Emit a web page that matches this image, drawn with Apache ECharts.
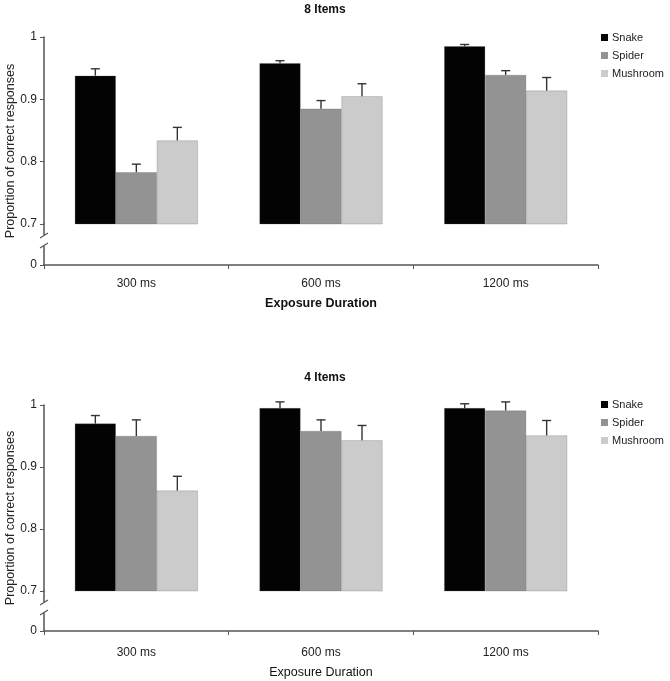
<!DOCTYPE html>
<html>
<head>
<meta charset="utf-8">
<script src="https://cdn.jsdelivr.net/npm/echarts@6/dist/echarts.min.js"></script>
<style>
html,body{margin:0;padding:0;background:#fff;}
#c{width:670px;height:681px;}
</style>
</head>
<body>
<div id="c"></div>
<script>
const categories = ['300 ms', '600 ms', '1200 ms'];
const seriesNames = ['Snake', 'Spider', 'Mushroom'];
const seriesColors = ['#030303', '#939393', '#cbcbcb'];
const yTicks = [0.7, 0.8, 0.9, 1];

// 8 Items
const snake8 = [0.938, 0.958, 0.985];
const spider8 = [0.783, 0.885, 0.939];
const mushroom8 = [0.834, 0.905, 0.914];
const snake8Err = [0.011, 0.004, 0.003];
const spider8Err = [0.013, 0.013, 0.007];
const mushroom8Err = [0.021, 0.020, 0.021];

// 4 Items
const snake4 = [0.970, 0.995, 0.995];
const spider4 = [0.950, 0.958, 0.991];
const mushroom4 = [0.862, 0.943, 0.951];
const snake4Err = [0.013, 0.010, 0.007];
const spider4Err = [0.026, 0.018, 0.014];
const mushroom4Err = [0.023, 0.024, 0.024];

const FONT = 'Liberation Sans, Arial, sans-serif';
const GAP = 0.334;
const axisColor = '#555';

const chart = echarts.init(document.getElementById('c'), null, {renderer: 'canvas'});

function panel(offsetIdx, top, barH, stripH, title, titleTop, nameBold, labelMargin, nameGap, legendTop) {
  const g = offsetIdx * 3;
  const grids = [
    {left: 44, width: 554, top: top, height: barH, outerBoundsMode: 'none'},
    {left: 44, width: 554, top: top + barH, height: stripH, outerBoundsMode: 'none'},
    {left: 44, width: 554, top: top, height: barH + stripH, outerBoundsMode: 'none'}
  ];
  const xAxes = [
    {gridIndex: g, type: 'category', data: categories, show: false, boundaryGap: true},
    {gridIndex: g + 1, type: 'category', data: categories, boundaryGap: true,
     axisLine: {show: true, lineStyle: {color: axisColor, width: 1.5}},
     axisTick: {show: true, length: 4, lineStyle: {color: axisColor}, alignWithLabel: false},
     axisLabel: {margin: labelMargin, color: '#222', fontSize: 12, fontFamily: FONT},
     name: 'Exposure Duration', nameLocation: 'middle', nameGap: nameGap,
     nameTextStyle: {color: '#111', fontSize: 12.5, fontFamily: FONT, fontWeight: nameBold ? 'bold' : 'normal'}},
    {gridIndex: g + 2, type: 'category', data: categories, show: false}
  ];
  const yAxes = [
    {gridIndex: g, type: 'value', min: 0.7, max: 1, interval: 0.1,
     axisLine: {show: true, lineStyle: {color: axisColor, width: 1.5}},
     axisTick: {show: true, length: 4, lineStyle: {color: axisColor}},
     axisLabel: {color: '#222', fontSize: 12, fontFamily: FONT, margin: 7,
                 customValues: yTicks, formatter: v => (Math.round(v * 10) / 10).toString()},
     splitLine: {show: false}},
    {gridIndex: g + 1, type: 'value', min: 0, max: 1, interval: 1,
     axisLine: {show: true, lineStyle: {color: axisColor, width: 1.5}},
     axisTick: {show: true, length: 4, lineStyle: {color: axisColor}, customValues: [0]},
     axisLabel: {color: '#222', fontSize: 12, fontFamily: FONT, margin: 7, customValues: [0], formatter: v => String(v)},
     splitLine: {show: false}},
    {gridIndex: g + 2, type: 'value', min: 0, max: 1,
     axisLine: {show: false}, axisTick: {show: false}, axisLabel: {show: false}, splitLine: {show: false},
     name: 'Proportion of correct responses', nameLocation: 'middle', nameGap: 27, nameMoveOverlap: false,
     nameTextStyle: {color: '#222', fontSize: 12.5, fontFamily: FONT}}
  ];
  const titleObj = {text: title, left: 325, top: titleTop, textAlign: 'center', padding: 0,
    textStyle: {fontSize: 12, fontWeight: 'bold', color: '#111', fontFamily: FONT}};
  const legendObj = {orient: 'vertical', left: 601, top: legendTop, itemWidth: 7, itemHeight: 7,
    itemGap: 5, icon: 'rect', data: seriesNames, padding: 0,
    itemStyle: {borderWidth: 0},
    textStyle: {fontSize: 11, color: '#222', fontFamily: FONT, padding: [0, 0, 0, -1], lineHeight: 13}};
  return {grids, xAxes, yAxes, titleObj, legendObj, g};
}

const p1 = panel(0, 37, 187, 41, '8 Items', 4, true, 13, 32, 31);
const p2 = panel(1, 405, 186, 40, '4 Items', 372, false, 16, 35, 398);

function barSeries(g, name, color, data) {
  return {type: 'bar', name: name, xAxisIndex: g, yAxisIndex: g, data: data,
    barGap: 0, barCategoryGap: (GAP * 100) + '%',
    itemStyle: {color: color, borderColor: 'rgba(90,90,90,0.5)', borderWidth: 0.5}, z: 2};
}
function errSeries(g, k, vals, errs) {
  return {type: 'custom', xAxisIndex: g, yAxisIndex: g, clip: false, z: 5,
    data: vals.map((v, i) => [i, v, errs[i]]),
    renderItem: function (params, api) {
      const xi = api.value(0), y = api.value(1), e = api.value(2);
      const c = api.coord([xi, y]);
      const t = api.coord([xi, y + e]);
      const band = api.size([1, 0])[0];
      const bw = band * (1 - GAP) / 3;
      const x = c[0] + (k - 1) * bw;
      const st = {stroke: '#333', lineWidth: 1.4};
      return {type: 'group', children: [
        {type: 'line', shape: {x1: x, y1: c[1], x2: x, y2: t[1]}, style: st},
        {type: 'line', shape: {x1: x - 4.5, y1: t[1], x2: x + 4.5, y2: t[1]}, style: st}
      ]};
    }};
}

const series = [
  barSeries(0, 'Snake', seriesColors[0], snake8),
  barSeries(0, 'Spider', seriesColors[1], spider8),
  barSeries(0, 'Mushroom', seriesColors[2], mushroom8),
  errSeries(0, 0, snake8, snake8Err),
  errSeries(0, 1, spider8, spider8Err),
  errSeries(0, 2, mushroom8, mushroom8Err),
  barSeries(3, 'Snake', seriesColors[0], snake4),
  barSeries(3, 'Spider', seriesColors[1], spider4),
  barSeries(3, 'Mushroom', seriesColors[2], mushroom4),
  errSeries(3, 0, snake4, snake4Err),
  errSeries(3, 1, spider4, spider4Err),
  errSeries(3, 2, mushroom4, mushroom4Err)
];

chart.setOption({
  animation: false,
  backgroundColor: '#fff',
  title: [p1.titleObj, p2.titleObj],
  legend: [p1.legendObj, p2.legendObj],
  grid: p1.grids.concat(p2.grids),
  xAxis: p1.xAxes.concat(p2.xAxes),
  yAxis: p1.yAxes.concat(p2.yAxes),
  series: series
});

// axis break marks (decoration on the y axis line)
function breakMarks(g) {
  const rect = chart.getModel().getComponent('grid', g + 1).coordinateSystem.getRect();
  const ax = rect.x;
  const yTop = rect.y;
  const y1 = yTop + 12, y2 = yTop + 21;
  return [
    {type: 'rect', shape: {x: ax - 3, y: y1 - 1, width: 6, height: y2 - y1 + 2}, style: {fill: '#fff'}, z: 100},
    {type: 'line', shape: {x1: ax - 4, y1: y1 + 2, x2: ax + 4, y2: y1 - 3}, style: {stroke: axisColor, lineWidth: 1.2}, z: 101},
    {type: 'line', shape: {x1: ax - 4, y1: y2 + 3, x2: ax + 4, y2: y2 - 2}, style: {stroke: axisColor, lineWidth: 1.2}, z: 101}
  ];
}
chart.setOption({graphic: breakMarks(0).concat(breakMarks(3))});
</script>
</body>
</html>
